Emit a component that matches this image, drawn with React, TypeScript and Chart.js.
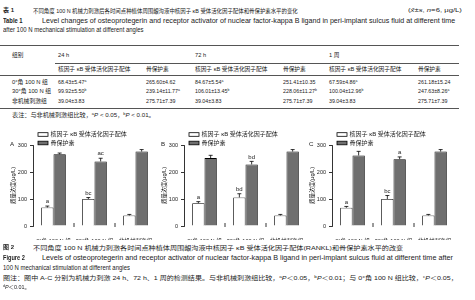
import React, { useEffect, useLayoutEffect, useRef } from "react";
import { Chart, registerables } from "chart.js";
Chart.register(...registerables);

const FONT = '"Liberation Sans", "Noto Sans CJK SC", sans-serif';
Chart.defaults.font.family = FONT;

// ---------- data ----------
const groups = ["0°角 100 N 组", "30°角 100 N 组", "非机械刺激组"];
const seriesNames = ["核因子 κB 受体活化因子配体", "骨保护素"];
const timeLabels = ["24 h", "72 h", "1 周"];
const panelLetters = ["A", "B", "C"];
const yTicks = [0, 100, 200, 300];

const rankl24 = [68.43, 99.92, 39.04];
const rankl24Sd = [5.47, 5.5, 3.83];
const opg24 = [265.6, 239.14, 275.71];
const opg24Sd = [4.62, 11.77, 7.39];
const rankl72 = [84.67, 106.01, 39.04];
const rankl72Sd = [5.54, 13.45, 3.83];
const opg72 = [251.41, 228.06, 275.71];
const opg72Sd = [10.35, 11.27, 7.39];
const rankl1w = [67.59, 100.04, 39.04];
const rankl1wSd = [4.86, 12.96, 3.83];
const opg1w = [261.18, 247.63, 275.71];
const opg1wSd = [15.24, 8.26, 7.39];

// superscripts in table
const rankl24Sup = ["a", "b", ""];
const opg24Sup = ["", "a", ""];
const rankl72Sup = ["a", "b", ""];
const opg72Sup = ["", "b", ""];
const rankl1wSup = ["a", "b", ""];
const opg1wSup = ["", "a", ""];

// marks above bars in figure
const rankl24Fig = ["a", "bc", ""];
const opg24Fig = ["", "ac", ""];
const rankl72Fig = ["a", "bd", ""];
const opg72Fig = ["", "bd", ""];
const rankl1wFig = ["a", "bc", ""];
const opg1wFig = ["", "a", ""];

const panels = [
  { r: rankl24, rs: rankl24Sd, o: opg24, os: opg24Sd, rSup: rankl24Sup, oSup: opg24Sup, rFig: rankl24Fig, oFig: opg24Fig },
  { r: rankl72, rs: rankl72Sd, o: opg72, os: opg72Sd, rSup: rankl72Sup, oSup: opg72Sup, rFig: rankl72Fig, oFig: opg72Fig },
  { r: rankl1w, rs: rankl1wSd, o: opg1w, os: opg1wSd, rSup: rankl1wSup, oSup: opg1wSup, rFig: rankl1wFig, oFig: opg1wFig },
];

// ---------- styling ----------
const TXT = "#222";
const GRAY = "#6f6f6f";

const errPlugin = {
  id: "errBars",
  afterDatasetsDraw(chart: any) {
    const ctx = chart.ctx;
    const y = chart.scales.y;
    chart.data.datasets.forEach((ds: any, di: number) => {
      const meta = chart.getDatasetMeta(di);
      meta.data.forEach((el: any, i: number) => {
        const yt = y.getPixelForValue(ds.data[i] + ds.sd[i]);
        ctx.save();
        ctx.strokeStyle = "#000";
        ctx.lineWidth = 0.8;
        ctx.beginPath();
        ctx.moveTo(el.x, el.y);
        ctx.lineTo(el.x, yt);
        ctx.moveTo(el.x - 2, yt);
        ctx.lineTo(el.x + 2, yt);
        ctx.stroke();
        const m = ds.marks[i];
        if (m) {
          ctx.fillStyle = TXT;
          ctx.font = `6px ${FONT}`;
          ctx.textAlign = "center";
          ctx.textBaseline = "bottom";
          ctx.fillText(m, el.x, yt - 1.5);
        }
        ctx.restore();
      });
    });
  },
};

const legendPlugin = {
  id: "vLegend",
  afterDraw(chart: any) {
    const ctx = chart.ctx;
    const x0 = chart.chartArea.left + 5;
    chart.data.datasets.forEach((ds: any, i: number) => {
      const cy = 6.5 + i * 8.5;
      ctx.save();
      ctx.fillStyle = ds.backgroundColor;
      ctx.fillRect(x0, cy - 1.8, 10, 3.6);
      ctx.strokeStyle = "#000";
      ctx.lineWidth = 0.8;
      ctx.strokeRect(x0, cy - 1.8, 10, 3.6);
      ctx.fillStyle = TXT;
      ctx.font = `6px ${FONT}`;
      ctx.textBaseline = "middle";
      ctx.textAlign = "left";
      ctx.fillText(ds.label, x0 + 12.5, cy);
      ctx.restore();
    });
  },
};

const catTickPlugin = {
  id: "catTicks",
  afterDraw(chart: any) {
    const ctx = chart.ctx;
    const x = chart.scales.x;
    const bottom = chart.chartArea.bottom;
    const n = chart.data.labels.length;
    ctx.save();
    ctx.strokeStyle = "#000";
    ctx.lineWidth = 0.8;
    for (let i = 1; i < n; i++) {
      const px = (x.getPixelForValue(i - 1) + x.getPixelForValue(i)) / 2;
      ctx.beginPath();
      ctx.moveTo(px, bottom - 3);
      ctx.lineTo(px, bottom + 1);
      ctx.stroke();
    }
    ctx.restore();
  },
};

const CW = 150;
const CH = 112;
const CTOP = 128;

function Panel({ idx, left }: { idx: number; left: number }) {
  const ref = useRef<HTMLCanvasElement>(null);
  useEffect(() => {
    const p = panels[idx];
    const chart = new Chart(ref.current as HTMLCanvasElement, {
      type: "bar",
      data: {
        labels: groups,
        datasets: [
          {
            label: seriesNames[0],
            data: p.r,
            sd: p.rs,
            marks: p.rFig,
            backgroundColor: "#ffffff",
            borderColor: "#000",
            borderWidth: 0.8,
            categoryPercentage: 0.6,
            barPercentage: 1,
          } as any,
          {
            label: seriesNames[1],
            data: p.o,
            sd: p.os,
            marks: p.oFig,
            backgroundColor: GRAY,
            borderColor: "#000",
            borderWidth: 0.8,
            categoryPercentage: 0.6,
            barPercentage: 1,
          } as any,
        ],
      },
      options: {
        animation: false,
        responsive: false,
        layout: { padding: { top: 17, right: 3, left: 0, bottom: 0 } },
        plugins: {
          legend: { display: false },
          tooltip: { enabled: false },
        },
        scales: {
          x: {
            offset: true,
            grid: { display: false },
            border: { display: false },
            ticks: { font: { size: 5.6 }, color: TXT, padding: 4, maxRotation: 0, autoSkip: false },
            afterFit: (s: any) => {
              s.height = 14;
            },
          },
          y: {
            min: 0,
            max: 300,
            afterBuildTicks: (s: any) => {
              s.ticks = yTicks.map((v) => ({ value: v }));
            },
            grid: { drawOnChartArea: false, tickLength: 3, color: "#000", lineWidth: 0.8 },
            border: { color: "#000", width: 0.8 },
            ticks: { font: { size: 5.5 }, color: TXT, padding: 3 },
            title: { display: true, text: "质量浓度(μg/L)", font: { size: 5.6 }, color: TXT, padding: 1 },
            afterFit: (s: any) => {
              s.width = 24;
            },
          },
        },
      } as any,
      plugins: [errPlugin, legendPlugin, catTickPlugin],
    });
    return () => chart.destroy();
  }, []);
  return (
    <canvas
      ref={ref}
      width={CW}
      height={CH}
      style={{ position: "absolute", left, top: CTOP, width: CW, height: CH }}
    />
  );
}

// text placed at x, centred on y; if w is given it is stretched to that width
function T({ x, y, s = 5.5, b = false, w, children }: any) {
  const ref = useRef<HTMLDivElement>(null);
  useLayoutEffect(() => {
    const el = ref.current;
    if (!el || !w) return;
    el.style.transform = "none";
    const nat = el.offsetWidth;
    if (nat > 0) el.style.transform = `scaleX(${w / nat})`;
  });
  return (
    <div
      ref={ref}
      style={{
        position: "absolute",
        left: x,
        top: y - s * 0.6,
        fontSize: s,
        lineHeight: s * 1.2 + "px",
        whiteSpace: "nowrap",
        fontWeight: b ? "bold" : "normal",
        color: TXT,
        transformOrigin: "left center",
      }}
    >
      {children}
    </div>
  );
}

function Sup({ children }: any) {
  return <sup style={{ fontSize: "0.65em", verticalAlign: "0.5em", lineHeight: 0 }}>{children}</sup>;
}

function Rule({ x, y, w }: any) {
  return <div style={{ position: "absolute", left: x, top: y, width: w, height: 0.8, background: "#555" }} />;
}

const fmt = (v: number, sd: number) => `${v.toFixed(2)}±${sd.toFixed(2)}`;

export default function App() {
  const colX = [58, 146, 195, 283, 329, 418];
  const timeX = [58, 195, 329];
  const rowY = [82, 91.5, 101];
  const axisX = [33, 184, 332];
  return (
    <div
      style={{
        position: "fixed",
        left: 0,
        top: 0,
        width: 475,
        height: 300,
        background: "#fff",
        overflow: "hidden",
        fontFamily: FONT,
      }}
    >
      <T x={3} y={11} s={6} b>表 1</T>
      <T x={33} y={11} s={5.8} w={265}>
        不同角度 100 N 机械力刺激后各时间点种植体周围龈沟液中核因子 κB 受体活化因子配体和骨保护素水平的变化
      </T>
      <T x={408} y={11} s={6} w={54}>
        (<i>x̄</i>±<i>s</i>, <i>n</i>=6, μg/L)
      </T>
      <T x={3} y={21} s={6.4} b w={20}>Table 1</T>
      <T x={42} y={21} s={6.4} w={413}>
        Level changes of osteoprotegerin and receptor activator of nuclear factor-kappa B ligand in peri-implant sulcus fluid at different time
      </T>
      <T x={3} y={30} s={6.4} w={141}>after 100 N mechanical stimulation at different angles</T>

      <Rule x={0} y={45} w={459} />
      <T x={12} y={55} s={5.7}>组别</T>
      {timeLabels.map((t, i) => (
        <T key={t} x={timeX[i]} y={55} s={5.7}>{t}</T>
      ))}
      <Rule x={55} y={62.5} w={404} />
      {timeLabels.map((t, i) => (
        <React.Fragment key={"h" + t}>
          <T x={colX[i * 2]} y={69} s={5.7}>{seriesNames[0]}</T>
          <T x={colX[i * 2 + 1]} y={69} s={5.7}>{seriesNames[1]}</T>
        </React.Fragment>
      ))}
      <Rule x={0} y={74.5} w={459} />
      {groups.map((g, gi) => (
        <React.Fragment key={g}>
          <T x={12} y={rowY[gi]} s={5.8}>{g}</T>
          {panels.map((p, pi) => (
            <React.Fragment key={pi}>
              <T x={colX[pi * 2]} y={rowY[gi]} s={5.3}>
                {fmt(p.r[gi], p.rs[gi])}
                {p.rSup[gi] ? <Sup>{p.rSup[gi]}</Sup> : null}
              </T>
              <T x={colX[pi * 2 + 1]} y={rowY[gi]} s={5.3}>
                {fmt(p.o[gi], p.os[gi])}
                {p.oSup[gi] ? <Sup>{p.oSup[gi]}</Sup> : null}
              </T>
            </React.Fragment>
          ))}
        </React.Fragment>
      ))}
      <Rule x={0} y={108} w={459} />
      <T x={12} y={115.5} s={5.8} w={143}>
        表注：与非机械刺激组比较，<Sup>a</Sup><i>P</i> &lt; 0.05，<Sup>b</Sup><i>P</i> &lt; 0.01。
      </T>

      {panelLetters.map((l, i) => (
        <React.Fragment key={l}>
          <Panel idx={i} left={axisX[i] - 24} />
          <T x={axisX[i] - 23} y={144} s={6.2}>{l}</T>
        </React.Fragment>
      ))}

      <T x={3} y={248} s={6} b>图 2</T>
      <T x={33} y={248} s={5.8} w={370}>
        不同角度 100 N 机械力刺激各时间点种植体周围龈沟液中核因子 κB 受体活化因子配体(RANKL)和骨保护素水平的改变
      </T>
      <T x={3} y={258} s={6.4} b w={22}>Figure 2</T>
      <T x={42} y={258} s={6.4} w={411}>
        Levels of osteoprotegerin and receptor activator of nuclear factor-kappa B ligand in peri-implant sulcus fluid at different time after
      </T>
      <T x={3} y={267.5} s={6.4} w={127}>100 N mechanical stimulation at different angles</T>
      <T x={3} y={278} s={5.8} w={455}>
        图注：图中 A-C 分别为机械力刺激 24 h、72 h、1 周的检测结果。与非机械刺激组比较，<Sup>a</Sup><i>P</i>＜0.05，<Sup>b</Sup><i>P</i>＜0.01；与 0°角 100 N 组比较，<Sup>c</Sup><i>P</i>＜0.05，
      </T>
      <T x={3} y={287} s={5.8} w={27}>
        <Sup>d</Sup><i>P</i>＜0.01。
      </T>
    </div>
  );
}
